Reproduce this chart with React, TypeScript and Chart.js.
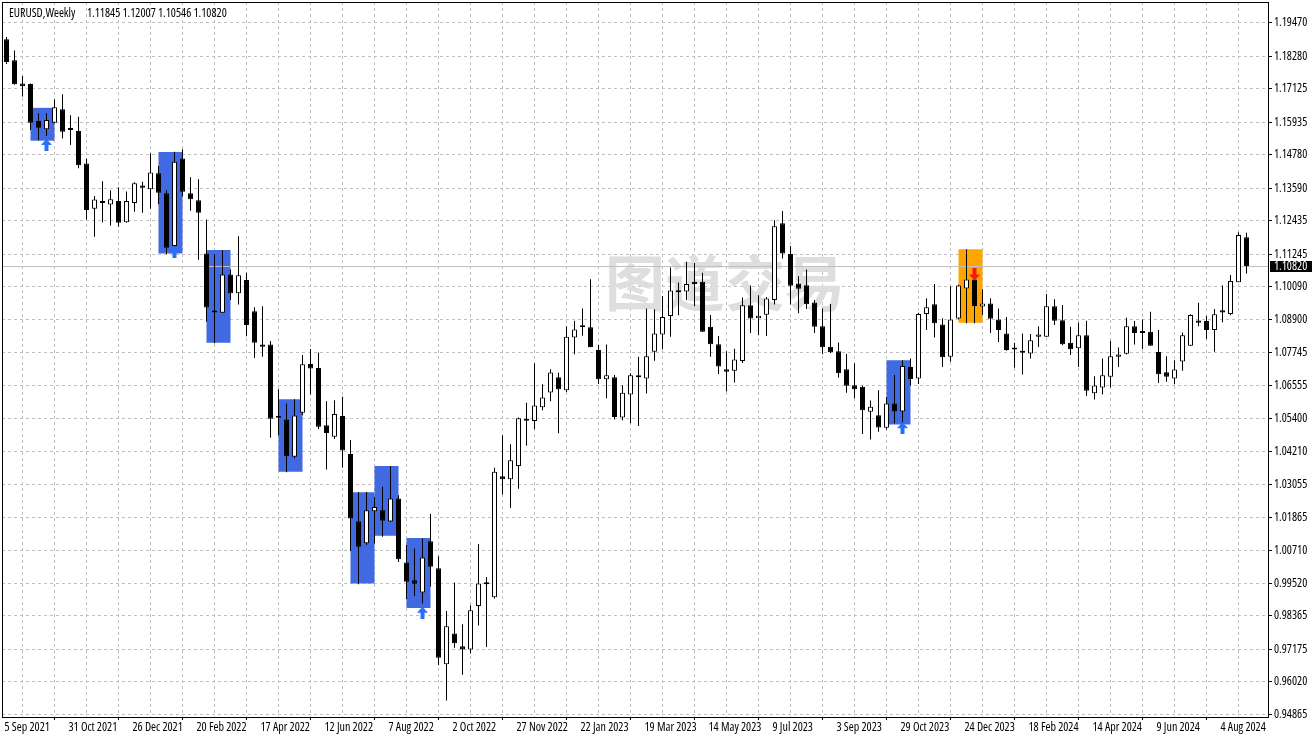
import React, { useEffect, useRef } from "react";
import { Chart, registerables } from "chart.js";

Chart.register(...registerables);

// ---------------- DATA ----------------
const symbolName = "EURUSD";
const timeframeName = "Weekly";

const opens = [
  1.1889, 1.1814, 1.1732, 1.1730, 1.1598, 1.1569, 1.1592, 1.1640, 1.1568, 1.1563,
  1.1447, 1.1286, 1.1308, 1.1301, 1.1313, 1.1238, 1.1306, 1.1369, 1.1355, 1.1412,
  1.1341, 1.1153, 1.1465, 1.1341, 1.1316, 1.1127, 1.0920, 1.0916, 1.1052, 1.0985,
  1.1032, 1.0921, 1.0803, 1.0803, 1.0548, 1.0536, 1.0403, 1.0560, 1.0733, 1.0719,
  1.0515, 1.0474, 1.0548, 1.0413, 1.0174, 1.0095, 1.0209, 1.0213, 1.0173, 1.0255,
  1.0027, 0.9964, 0.9920, 1.0102, 1.0006, 0.9665, 0.9774, 0.9729, 0.9717, 0.9872,
  0.9949, 0.9903, 1.0334, 1.0323, 1.0370, 1.0534, 1.0530, 1.0579, 1.0632, 1.0686,
  1.0640, 1.0828, 1.0866, 1.0864, 1.0783, 1.0679, 1.0686, 1.0543, 1.0625, 1.0693,
  1.0682, 1.0777, 1.0838, 1.0904, 1.0989, 1.0991, 1.1026, 1.1026, 1.0866, 1.0804,
  1.0715, 1.0709, 1.0744, 1.0942, 1.0896, 1.0909, 1.0961, 1.1234, 1.1125, 1.1020,
  1.1014, 1.0952, 1.0868, 1.0795, 1.0779, 1.0715, 1.0658, 1.0652, 1.0563, 1.0551,
  1.0506, 1.0593, 1.0564, 1.0723, 1.0682, 1.0911, 1.0946, 1.0874, 1.0759, 1.0895,
  1.1002, 1.1034, 1.0938, 1.0949, 1.0892, 1.0842, 1.0785, 1.0773, 1.0771, 1.0830,
  1.0830, 1.0939, 1.0889, 1.0809, 1.0789, 1.0836, 1.0629, 1.0650, 1.0688, 1.0759,
  1.0770, 1.0868, 1.0850, 1.0848, 1.0776, 1.0704, 1.0682, 1.0742, 1.0798, 1.0888,
  1.0886, 1.0854, 1.0925, 1.0911, 1.1024, 1.11845,
];

const highs = [
  1.1897, 1.1849, 1.1758, 1.1732, 1.1626, 1.1626, 1.1675, 1.1693, 1.1619, 1.1613,
  1.1465, 1.1331, 1.1384, 1.1352, 1.1362, 1.1347, 1.1380, 1.1382, 1.1483, 1.1438,
  1.1352, 1.1489, 1.1498, 1.1398, 1.1391, 1.1248, 1.1124, 1.1139, 1.1070, 1.1188,
  1.1058, 1.0935, 1.0939, 1.0815, 1.0643, 1.0593, 1.0608, 1.0765, 1.0787, 1.0774,
  1.0601, 1.0604, 1.0617, 1.0463, 1.0278, 1.0278, 1.0259, 1.0296, 1.0370, 1.0266,
  1.0089, 1.0077, 1.0112, 1.0199, 1.0049, 0.9854, 0.9956, 0.9807, 0.9875, 1.0093,
  0.9975, 1.0364, 1.0480, 1.0448, 1.0543, 1.0595, 1.0736, 1.0661, 1.0715, 1.0702,
  1.0868, 1.0887, 1.0931, 1.1035, 1.0801, 1.0803, 1.0694, 1.0658, 1.0700, 1.0759,
  1.0931, 1.0928, 1.0975, 1.1077, 1.1023, 1.1097, 1.1093, 1.1058, 1.0908, 1.0833,
  1.0779, 1.0788, 1.0970, 1.1013, 1.0978, 1.0972, 1.1245, 1.1278, 1.1153, 1.1046,
  1.1070, 1.0961, 1.0931, 1.0947, 1.0810, 1.0769, 1.0736, 1.0656, 1.0603, 1.0640,
  1.0616, 1.0694, 1.0747, 1.0753, 1.0916, 1.0967, 1.1018, 1.0896, 1.1010, 1.1015,
  1.1142, 1.1061, 1.0999, 1.0967, 1.0931, 1.0901, 1.0809, 1.0842, 1.0840, 1.0868,
  1.0982, 1.0964, 1.0943, 1.0866, 1.0880, 1.0887, 1.0690, 1.0753, 1.0815, 1.0792,
  1.0898, 1.0886, 1.0892, 1.0919, 1.0854, 1.0761, 1.0747, 1.0845, 1.0910, 1.0951,
  1.0904, 1.0929, 1.1013, 1.1050, 1.1202, 1.12007,
];

const lows = [
  1.1801, 1.1727, 1.1685, 1.1566, 1.1530, 1.1545, 1.1590, 1.1536, 1.1513, 1.1430,
  1.1248, 1.1186, 1.1237, 1.1225, 1.1222, 1.1236, 1.1275, 1.1272, 1.1286, 1.1302,
  1.1124, 1.1150, 1.1329, 1.1279, 1.1104, 1.0884, 1.0807, 1.0916, 1.0961, 1.0945,
  1.0832, 1.0755, 1.0759, 1.0471, 1.0480, 1.0348, 1.0397, 1.0551, 1.0625, 1.0502,
  1.0358, 1.0466, 1.0364, 1.0068, 0.9949, 1.0089, 1.0094, 1.0118, 1.0171, 1.0029,
  0.9896, 0.9908, 0.9881, 0.9941, 0.9662, 0.9536, 0.9723, 0.9627, 0.9703, 0.9803,
  0.9726, 0.9899, 1.0269, 1.0221, 1.0289, 1.0442, 1.0501, 1.0569, 1.0601, 1.0487,
  1.0634, 1.0768, 1.0834, 1.0793, 1.0662, 1.0611, 1.0536, 1.0533, 1.0522, 1.0513,
  1.0628, 1.0745, 1.0786, 1.0830, 1.0907, 1.0961, 1.0939, 1.0848, 1.0759, 1.0698,
  1.0635, 1.0667, 1.0737, 1.0844, 1.0836, 1.0833, 1.0945, 1.1109, 1.0945, 1.0914,
  1.0929, 1.0844, 1.0768, 1.0772, 1.0684, 1.0631, 1.0611, 1.0484, 1.0465, 1.0492,
  1.0500, 1.0522, 1.0522, 1.0656, 1.0662, 1.0854, 1.0828, 1.0723, 1.0741, 1.0893,
  1.0878, 1.0878, 1.0908, 1.0844, 1.0812, 1.0780, 1.0720, 1.0696, 1.0753, 1.0794,
  1.0830, 1.0872, 1.0800, 1.0765, 1.0723, 1.0619, 1.0607, 1.0625, 1.0650, 1.0723,
  1.0767, 1.0803, 1.0787, 1.0798, 1.0666, 1.0670, 1.0661, 1.0709, 1.0797, 1.0868,
  1.0822, 1.0777, 1.0882, 1.0907, 1.1024, 1.10546,
];

const closes = [
  1.1808, 1.1729, 1.1722, 1.1592, 1.1574, 1.1602, 1.1647, 1.1560, 1.1566, 1.1441,
  1.1281, 1.1319, 1.1306, 1.1320, 1.1236, 1.1313, 1.1377, 1.1361, 1.1415, 1.1343,
  1.1147, 1.1453, 1.1346, 1.1320, 1.1272, 1.0934, 1.0917, 1.1052, 1.0985, 1.1049,
  1.0872, 1.0809, 1.0795, 1.0538, 1.0542, 1.0405, 1.0550, 1.0732, 1.0717, 1.0510,
  1.0488, 1.0555, 1.0425, 1.0183, 1.0083, 1.0213, 1.0224, 1.0175, 1.0255, 1.0038,
  0.9958, 0.9951, 1.0045, 1.0012, 0.9688, 0.9800, 0.9739, 0.9717, 0.9857, 0.9952,
  0.9956, 1.0350, 1.0323, 1.0391, 1.0540, 1.0531, 1.0586, 1.0614, 1.0703, 1.0643,
  1.0830, 1.0856, 1.0864, 1.0793, 1.0679, 1.0693, 1.0545, 1.0631, 1.0693, 1.0686,
  1.0761, 1.0842, 1.0901, 1.0995, 1.0989, 1.1018, 1.1018, 1.0848, 1.0804, 1.0724,
  1.0706, 1.0749, 1.0942, 1.0895, 1.0905, 1.0966, 1.1224, 1.1127, 1.1012, 1.1001,
  1.0946, 1.0866, 1.0793, 1.0775, 1.0700, 1.0656, 1.0643, 1.0569, 1.0581, 1.0507,
  1.0593, 1.0564, 1.0726, 1.0680, 1.0911, 1.0935, 1.0878, 1.0757, 1.0892, 1.1013,
  1.1034, 1.0940, 1.0949, 1.0894, 1.0854, 1.0783, 1.0785, 1.0773, 1.0818, 1.0838,
  1.0939, 1.0887, 1.0804, 1.0786, 1.0836, 1.0638, 1.0657, 1.0693, 1.0761, 1.0767,
  1.0868, 1.0844, 1.0844, 1.0798, 1.0697, 1.0688, 1.0714, 1.0836, 1.0908, 1.0880,
  1.0854, 1.0910, 1.0917, 1.1029, 1.1192, 1.10820,
];

// one date label every 8 weekly bars, starting at bar 0
const dateLabels = [
  "5 Sep 2021", "31 Oct 2021", "26 Dec 2021", "20 Feb 2022", "17 Apr 2022",
  "12 Jun 2022", "7 Aug 2022", "2 Oct 2022", "27 Nov 2022", "22 Jan 2023",
  "19 Mar 2023", "14 May 2023", "9 Jul 2023", "3 Sep 2023", "29 Oct 2023",
  "24 Dec 2023", "18 Feb 2024", "14 Apr 2024", "9 Jun 2024", "4 Aug 2024",
];
const barsPerDateLabel = 8;
const barsPerGridLine = 4;

const priceTicks = [
  1.1947, 1.1828, 1.17125, 1.15935, 1.1478, 1.1359, 1.12435, 1.11245, 1.1009,
  1.089, 1.07745, 1.06555, 1.054, 1.0421, 1.03055, 1.01865, 1.0071, 0.9952,
  0.98365, 0.97175, 0.9602, 0.94865,
];
const priceMin = 0.94769;
const priceMax = 1.20217;

// highlighted signal zones (first bar, 3 bars wide)
const zoneFirstBars = [3, 19, 25, 34, 43, 46, 50, 110, 119];
const zoneBarSpan = 3;
const zoneTops = [1.1645, 1.1488, 1.1139, 1.0608, 1.0277, 1.037, 1.0114, 1.0747, 1.1142];
const zoneBottoms = [1.1528, 1.1127, 1.0809, 1.035, 0.9952, 1.0122, 0.9865, 1.0518, 1.088];
const zoneSignals = ["buy", "buy", "buy", "buy", "buy", "buy", "buy", "buy", "sell"];

// signal arrows
const arrowBars = [5, 21, 52, 112, 121];
const arrowPrices = [1.1513, 1.1132, 0.9848, 1.0505, 1.1052];
const arrowSignals = ["buy", "buy", "buy", "buy", "sell"];

const watermarkText = "图道交易";

// ---------------- STYLE / LAYOUT ----------------
const W = 1316;
const H = 741;
const PAD_LEFT = 2;
const PAD_TOP = 2;
const Y_AXIS_W = 47;
const X_AXIS_H = 24;
const PX_PER_BAR = 8;
const FIRST_BAR_OFFSET_PX = 4.5;
const FONT_FAMILY = "'Open Sans', 'Roboto Condensed', sans-serif";
const FONT_SIZE = 12;
const FONT_STRETCH = "condensed";
const FONT_STR = `${FONT_STRETCH} ${FONT_SIZE}px ${FONT_FAMILY}`;
const GRID_COLOR = "#c0c0c0";
const ZONE_COLORS: Record<string, string> = { buy: "rgb(65,105,225)", sell: "rgb(255,165,0)" };
const ARROW_COLORS: Record<string, string> = { buy: "rgb(40,110,255)", sell: "rgb(250,20,20)" };

const plotWidth = W - PAD_LEFT - Y_AXIS_W;
const X_MIN = -FIRST_BAR_OFFSET_PX / PX_PER_BAR;
const X_MAX = X_MIN + plotWidth / PX_PER_BAR;

function makeArrow(dir: string, color: string): HTMLCanvasElement {
  const c = document.createElement("canvas");
  c.width = 11;
  c.height = 12;
  const g = c.getContext("2d")!;
  g.fillStyle = color;
  g.beginPath();
  if (dir === "buy") {
    g.moveTo(5.5, 0);
    g.lineTo(11, 6);
    g.lineTo(7.5, 6);
    g.lineTo(7.5, 12);
    g.lineTo(3.5, 12);
    g.lineTo(3.5, 6);
    g.lineTo(0, 6);
  } else {
    g.moveTo(3.5, 0);
    g.lineTo(7.5, 0);
    g.lineTo(7.5, 6);
    g.lineTo(11, 6);
    g.lineTo(5.5, 12);
    g.lineTo(0, 6);
    g.lineTo(3.5, 6);
  }
  g.closePath();
  g.fill();
  return c;
}

const decorPlugin = {
  id: "mtDecor",
  beforeDatasetsDraw(chart: any) {
    const { ctx, chartArea } = chart;
    ctx.save();
    ctx.font = "bold 60px 'Noto Sans CJK SC', sans-serif";
    ctx.fillStyle = "rgb(222,222,222)";
    ctx.textAlign = "center";
    ctx.textBaseline = "middle";
    const x = chartArea.left + (chartArea.right - chartArea.left) * 0.5706;
    const y = chartArea.top + (chartArea.bottom - chartArea.top) * 0.393;
    ctx.fillText(watermarkText, x, y);
    ctx.restore();
  },
  afterDatasetDraw(chart: any, args: any) {
    if (args.index !== 0) return;
    const { ctx, chartArea, scales } = chart;
    const last = closes[closes.length - 1];
    const y = Math.round(scales.y.getPixelForValue(last) - 0.5) + 0.5;
    ctx.save();
    ctx.strokeStyle = GRID_COLOR;
    ctx.lineWidth = 1;
    ctx.beginPath();
    ctx.moveTo(chartArea.left, y);
    ctx.lineTo(chartArea.right, y);
    ctx.stroke();
    ctx.restore();
  },
  afterDraw(chart: any) {
    const { ctx, chartArea, scales } = chart;
    ctx.save();
    // frame
    ctx.strokeStyle = "#000";
    ctx.lineWidth = 1;
    ctx.strokeRect(
      chartArea.left + 0.5,
      chartArea.top + 0.5,
      chartArea.right - chartArea.left - 1,
      chartArea.bottom - chartArea.top
    );
    // current price label
    const n = closes.length - 1;
    const last = closes[n];
    const y = Math.round(scales.y.getPixelForValue(last));
    ctx.fillStyle = "#000";
    ctx.fillRect(chartArea.right + 1, y - 5, 42, 11);
    ctx.fillStyle = "#fff";
    ctx.font = FONT_STR;
    ctx.textAlign = "left";
    ctx.textBaseline = "middle";
    ctx.fillText(last.toFixed(5), chartArea.right + 5, y + 0.5);
    // header
    ctx.fillStyle = "#000";
    ctx.textBaseline = "alphabetic";
    const title = `${symbolName},${timeframeName}`;
    const tx = chartArea.left + 7;
    ctx.fillText(title, tx, 17);
    const vals = [opens[n], highs[n], lows[n], closes[n]].map((v) => v.toFixed(5)).join(" ");
    const vx = Math.max(tx + ctx.measureText(title).width + 6, chartArea.left + 85);
    ctx.fillText(vals, vx, 17);
    ctx.restore();
  },
};

export default function App() {
  const canvasRef = useRef<HTMLCanvasElement | null>(null);

  useEffect(() => {
    document.body.style.margin = "0";
    document.body.style.overflow = "hidden";
    const canvas = canvasRef.current;
    if (!canvas) return;

    const wickData = opens.map((_, i) => ({ x: i, y: [lows[i], highs[i]] }));
    const bodyData = opens.map((o, i) => ({ x: i, y: [Math.min(o, closes[i]), Math.max(o, closes[i])] }));
    const bodyColors = opens.map((o, i) => (closes[i] >= o ? "#ffffff" : "#000000"));
    const zoneData = zoneFirstBars.map((b, k) => ({
      x: b + zoneBarSpan / 2,
      y: [zoneBottoms[k], zoneTops[k]],
    }));
    const arrowData = arrowBars.map((b, k) => ({ x: b, y: arrowPrices[k] }));
    const arrowImgs = arrowSignals.map((s) => makeArrow(s, ARROW_COLORS[s]));

    const tickFont = { family: FONT_FAMILY, size: FONT_SIZE, weight: FONT_STRETCH };

    const chart = new Chart(canvas, {
      type: "bar",
      data: {
        datasets: [
          {
            type: "bar",
            label: "zones",
            data: zoneData as any,
            backgroundColor: zoneSignals.map((s) => ZONE_COLORS[s]),
            borderWidth: 0,
            barThickness: zoneBarSpan * PX_PER_BAR,
            grouped: false,
            inflateAmount: 0,
            order: 3,
          } as any,
          {
            type: "bar",
            label: "wicks",
            data: wickData as any,
            backgroundColor: "#000",
            borderWidth: 0,
            barThickness: 1,
            grouped: false,
            inflateAmount: 0,
            order: 2,
          } as any,
          {
            type: "bar",
            label: "bodies",
            data: bodyData as any,
            backgroundColor: bodyColors,
            borderColor: "#000",
            borderWidth: 1,
            borderSkipped: false,
            barThickness: 5,
            minBarLength: 2,
            grouped: false,
            inflateAmount: 0,
            order: 1,
          } as any,
          {
            type: "scatter",
            label: "arrows",
            data: arrowData,
            pointStyle: arrowImgs as any,
            pointRadius: 5,
            showLine: false,
            order: 0,
          } as any,
        ],
      },
      options: {
        animation: false,
        responsive: false,
        devicePixelRatio: 1,
        events: [],
        layout: { autoPadding: false, padding: { left: PAD_LEFT, top: PAD_TOP, right: 0, bottom: 0 } },
        plugins: { legend: { display: false }, tooltip: { enabled: false } },
        scales: {
          x: {
            type: "linear",
            position: "bottom",
            min: X_MIN,
            max: X_MAX,
            offset: false,
            afterBuildTicks: (s: any) => {
              const t: any[] = [];
              for (let v = 0; v <= X_MAX; v += barsPerGridLine) t.push({ value: v });
              s.ticks = t;
            },
            afterFit: (s: any) => {
              s.height = X_AXIS_H;
              s.paddingLeft = 0;
              s.paddingRight = 0;
            },
            ticks: {
              autoSkip: false,
              maxRotation: 0,
              minRotation: 0,
              align: "start",
              padding: 0,
              labelOffset: -2,
              color: "#000",
              font: tickFont,
              callback: (v: any) =>
                v % barsPerDateLabel === 0 ? dateLabels[v / barsPerDateLabel] ?? "" : "",
            },
            grid: {
              color: GRID_COLOR,
              lineWidth: 1,
              drawTicks: true,
              tickLength: 3,
              tickWidth: 1,
              tickBorderDash: [],
              tickColor: (c: any) =>
                c.tick && c.tick.value % barsPerDateLabel === 0 ? "#000" : "rgba(0,0,0,0)",
            },
            border: { display: false, dash: [3, 3] },
          } as any,
          y: {
            type: "linear",
            position: "right",
            min: priceMin,
            max: priceMax,
            afterBuildTicks: (s: any) => {
              s.ticks = priceTicks.map((v) => ({ value: v }));
            },
            afterFit: (s: any) => {
              s.width = Y_AXIS_W;
              s.paddingTop = 0;
              s.paddingBottom = 0;
            },
            ticks: {
              autoSkip: false,
              padding: 2,
              color: "#000",
              font: tickFont,
              callback: (v: any) => Number(v).toFixed(5),
            },
            grid: {
              color: GRID_COLOR,
              lineWidth: 1,
              drawTicks: true,
              tickLength: 3,
              tickWidth: 1,
              tickBorderDash: [],
              tickColor: "#000",
            },
            border: { display: false, dash: [3, 3] },
          } as any,
        },
      },
      plugins: [decorPlugin],
    });

    return () => {
      chart.destroy();
    };
  }, []);

  return (
    <div style={{ position: "fixed", left: 0, top: 0, width: W, height: H, background: "#fff" }}>
      <canvas ref={canvasRef} width={W} height={H} style={{ display: "block", width: W, height: H }} />
    </div>
  );
}
